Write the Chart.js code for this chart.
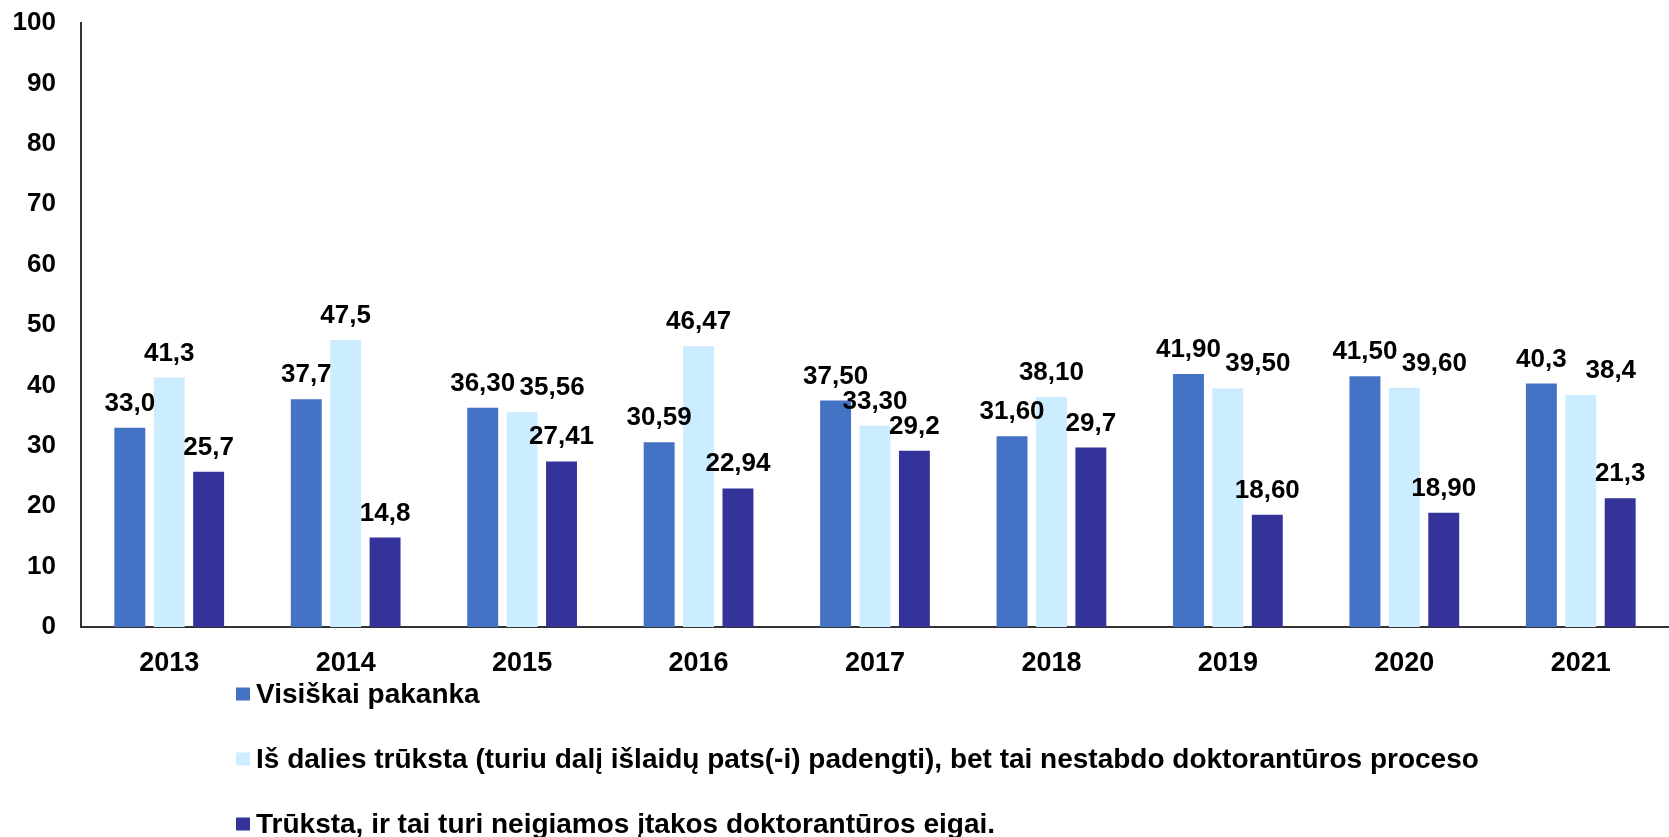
<!DOCTYPE html>
<html lang="lt">
<head>
<meta charset="utf-8">
<title>Stipendijos pakankamumas</title>
<script src="https://cdn.jsdelivr.net/npm/chart.js@4/dist/chart.umd.min.js"></script>
<style>
  html, body { margin: 0; padding: 0; background: #fff; }
  #wrap { width: 1669px; height: 837px; }
</style>
</head>
<body>
<div id="wrap"><canvas id="chart"></canvas></div>
<script>
'use strict';

// ─── Data ─────────────────────────────────────────────────────────────────────

const years = ['2013', '2014', '2015', '2016', '2017', '2018', '2019', '2020', '2021'];

const seriesNames = [
  'Visiškai pakanka',
  'Iš dalies trūksta (turiu dalį išlaidų pats(-i) padengti), bet tai nestabdo doktorantūros proceso',
  'Trūksta, ir tai turi neigiamos įtakos doktorantūros eigai.',
];

const fullyEnough   = [33.0, 37.7, 36.30, 30.59, 37.50, 31.60, 41.90, 41.50, 40.3];
const partlyLacking = [41.3, 47.5, 35.56, 46.47, 33.30, 38.10, 39.50, 39.60, 38.4];
const lacking       = [25.7, 14.8, 27.41, 22.94, 29.2, 29.7, 18.60, 18.90, 21.3];

// labels as printed in the source (decimals vary by year)
const fullyLabels   = ['33,0', '37,7', '36,30', '30,59', '37,50', '31,60', '41,90', '41,50', '40,3'];
const partlyLabels  = ['41,3', '47,5', '35,56', '46,47', '33,30', '38,10', '39,50', '39,60', '38,4'];
const lackingLabels = ['25,7', '14,8', '27,41', '22,94', '29,2', '29,7', '18,60', '18,90', '21,3'];

const yTicks = [0, 10, 20, 30, 40, 50, 60, 70, 80, 90, 100];

const colors = ['#4472C4', '#CCECFF', '#333399'];

// ─── Plugins ──────────────────────────────────────────────────────────────────

const FONT = '"Liberation Sans", Arial, sans-serif';
const LABEL_SIZE = 26;

// value labels above bars; a label that would collide with its left
// neighbour in the same group gets nudged to the right
const valueLabels = {
  id: 'valueLabels',
  afterDatasetsDraw(chart) {
    const { ctx } = chart;
    const capH = LABEL_SIZE * 0.72;
    ctx.save();
    ctx.font = `bold ${LABEL_SIZE}px ${FONT}`;
    ctx.fillStyle = '#000';
    ctx.textAlign = 'center';
    ctx.textBaseline = 'alphabetic';
    const metas = chart.data.datasets.map((_, di) => chart.getDatasetMeta(di));
    chart.data.labels.forEach((_, i) => {
      let prev = null;
      chart.data.datasets.forEach((ds, di) => {
        const bar = metas[di].data[i];
        const text = ds.printed[i];
        const w = ctx.measureText(text).width;
        let cx = bar.x;
        const base = bar.y - 17;
        const box = { l: cx - w / 2, r: cx + w / 2, t: base - capH - 2, b: base + 2 };
        if (prev && box.t < prev.b && box.b > prev.t && box.l < prev.r) {
          const shift = Math.max(30, prev.r - box.l + 4);
          cx += shift; box.l += shift; box.r += shift;
        }
        ctx.fillText(text, cx, base);
        prev = box;
      });
    });
    ctx.restore();
  },
};

const stackedLegend = {
  id: 'stackedLegend',
  afterDraw(chart) {
    const { ctx } = chart;
    const x0 = 236, rowY = [694, 759, 824], box = 13;
    ctx.save();
    ctx.font = `bold 28px ${FONT}`;
    ctx.textBaseline = 'middle';
    ctx.textAlign = 'left';
    chart.data.datasets.forEach((ds, i) => {
      ctx.fillStyle = ds.backgroundColor;
      ctx.fillRect(x0, rowY[i] - box / 2, box + 1, box);
      ctx.fillStyle = '#000';
      ctx.fillText(ds.label, 256, rowY[i] + 1);
    });
    ctx.restore();
  },
};

// ─── Chart ────────────────────────────────────────────────────────────────────

const printed = [fullyLabels, partlyLabels, lackingLabels];

new Chart(document.getElementById('chart'), {
  type: 'bar',
  data: {
    labels: years,
    datasets: [fullyEnough, partlyLacking, lacking].map((vals, i) => ({
      label: seriesNames[i],
      data: vals,
      printed: printed[i],
      backgroundColor: colors[i],
      borderWidth: 0,
      barPercentage: 0.785,
      categoryPercentage: 0.67,
    })),
  },
  options: {
    responsive: true,
    maintainAspectRatio: false,
    animation: false,
    layout: { padding: { top: 23, right: -6, bottom: 140, left: 0 } },
    plugins: {
      legend: { display: false },
      tooltip: { enabled: false },
    },
    scales: {
      y: {
        min: 0,
        max: 100,
        afterFit: s => { s.width = 81; s.paddingTop = 0; s.paddingBottom = 0; },
        afterBuildTicks: s => { s.ticks = yTicks.map(v => ({ value: v })); },
        ticks: {
          padding: 25,
          color: '#000',
          font: { family: FONT, size: 26, weight: 'bold' },
        },
        grid: { display: false, drawTicks: false },
        border: { display: true, color: '#333', width: 2 },
      },
      x: {
        afterFit: s => { s.height = 70; s.paddingLeft = 0; s.paddingRight = 0; },
        ticks: {
          padding: 20,
          color: '#000',
          font: { family: FONT, size: 27, weight: 'bold' },
        },
        grid: { display: false, drawTicks: false },
        border: { display: true, color: '#333', width: 2 },
      },
    },
  },
  plugins: [valueLabels, stackedLegend],
});
</script>
</body>
</html>
